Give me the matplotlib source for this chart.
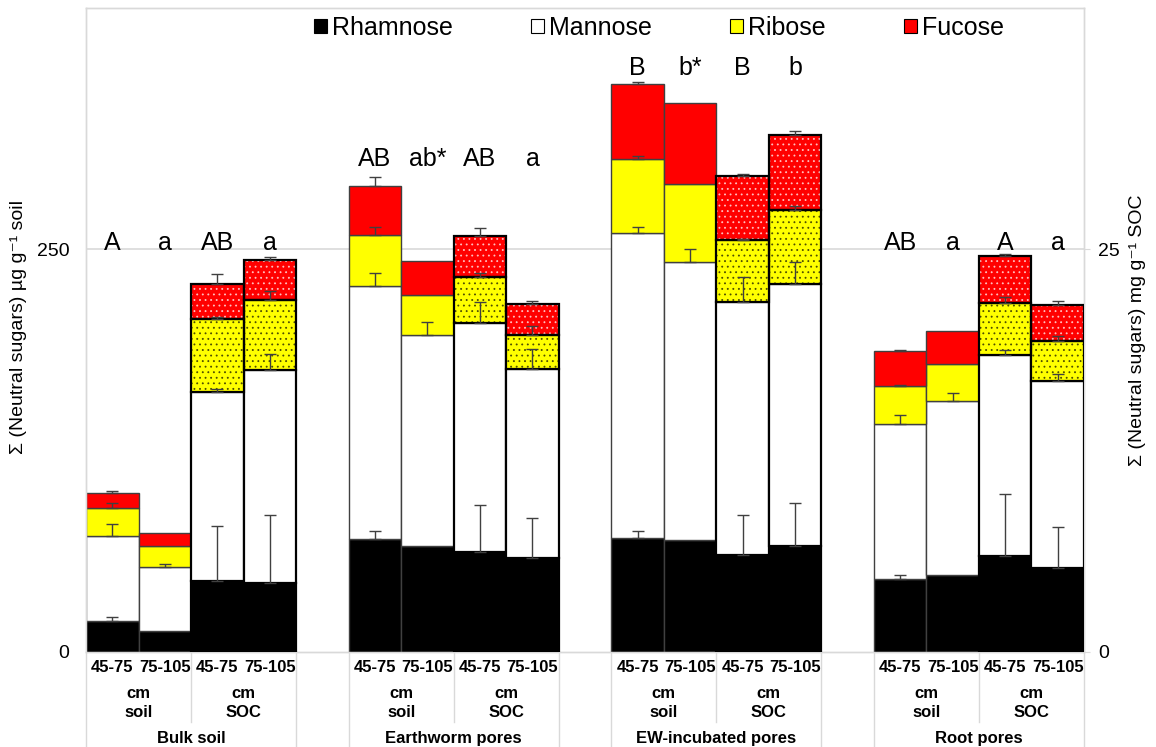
import numpy as np
import matplotlib
matplotlib.use("Agg")
import matplotlib.pyplot as plt
from matplotlib.patches import Patch

plt.rcParams['font.family'] = ['Liberation Sans', 'DejaVu Sans']
plt.rcParams['hatch.linewidth'] = 0.6

groups = ["Bulk soil", "Earthworm pores", "EW-incubated pores", "Root pores"]
depths = ["45-75", "75-105"]
sugars = ["Rhamnose", "Mannose", "Ribose", "Fucose"]

# per group: 45-75 cm, 75-105 cm
# soil basis in µg g-1 soil, SOC basis in mg g-1 SOC
rham_soil = [19.5, 12.9, 70.3, 65.9, 71.1, 69.7, 45.4, 47.9]
mann_soil = [52.8, 40.0, 157.1, 131.1, 189.0, 172.8, 96.2, 107.8]
rib_soil = [17.1, 13.2, 31.9, 24.6, 46.3, 48.4, 23.8, 23.2]
fuc_soil = [9.5, 7.7, 30.1, 21.1, 46.6, 50.3, 21.8, 20.7]

rham_soc = [4.40, 4.31, 6.22, 5.85, 6.03, 6.59, 5.97, 5.22]
mann_soc = [11.75, 13.23, 14.22, 11.75, 15.69, 16.28, 12.46, 11.61]
rib_soc = [4.56, 4.31, 2.88, 2.11, 3.84, 4.56, 3.26, 2.47]
fuc_soc = [2.16, 2.48, 2.51, 1.91, 4.00, 4.70, 2.89, 2.28]

rham_soil_err = [2.0, 0, 5.0, 0, 4.0, 0, 2.5, 0]
mann_soil_err = [7.0, 2.0, 8.0, 8.0, 4.0, 8.0, 5.3, 5.0]
rib_soil_err = [3.0, 0, 4.4, 0, 1.5, 0, 0.3, 0]
fuc_soil_err = [1.0, 0, 5.6, 0, 1.0, 0, 0.5, 0]

rham_soc_err = [3.4, 4.2, 2.9, 2.5, 2.5, 2.65, 3.85, 2.55]
mann_soc_err = [0.2, 0.95, 1.3, 1.2, 1.56, 1.37, 0.35, 0.44]
rib_soc_err = [0.1, 0.6, 0.2, 0.56, 0.1, 0.3, 0.35, 0.3]
fuc_soc_err = [0.6, 0.2, 0.5, 0.15, 0.1, 0.2, 0.17, 0.2]

letters_soil = ["A", "a", "AB", "ab*", "B", "b*", "AB", "a"]
letters_soc = ["AB", "a", "AB", "a", "B", "b", "A", "a"]
letter_y = [254, 306, 363, 254]

colors = ["black", "white", "#ffff00", "#ff0000"]
hatch_colors = [None, None, "#4d4d00", "#ffc0c0"]

soil = [rham_soil, mann_soil, rib_soil, fuc_soil]
soc = [rham_soc, mann_soc, rib_soc, fuc_soc]
soil_err = [rham_soil_err, mann_soil_err, rib_soil_err, fuc_soil_err]
soc_err = [rham_soc_err, mann_soc_err, rib_soc_err, fuc_soc_err]

fig = plt.figure(figsize=(11.56, 7.47), dpi=100)
ax = fig.add_axes([0.0744, 0.1272, 0.8633, 0.8621])
ax2 = ax.twinx()

n = len(groups)
x_soil = np.array([5 * g + d for g in range(n) for d in range(2)])
x_soc = x_soil + 2

grid_col = "#d9d9d9"
err_col = "#404040"


def stack(axis, xs, series, errs, soc_basis):
    bottom = np.zeros(len(xs))
    for i, vals in enumerate(series):
        vals = np.array(vals)
        if soc_basis and hatch_colors[i]:
            axis.bar(xs, vals, width=1.0, bottom=bottom, color=colors[i],
                     edgecolor=hatch_colors[i], hatch="...", linewidth=0, zorder=3)
            axis.bar(xs, vals, width=1.0, bottom=bottom, fill=False,
                     edgecolor="black", linewidth=1.6, zorder=3.1)
        else:
            axis.bar(xs, vals, width=1.0, bottom=bottom, color=colors[i],
                     edgecolor="black" if soc_basis else "#404040",
                     linewidth=1.6 if soc_basis else 1.0, zorder=3)
        top = bottom + vals
        e = np.array(errs[i])
        m = e > 0
        axis.errorbar(xs[m], top[m], yerr=[np.zeros(m.sum()), e[m]], fmt="none",
                      ecolor=err_col, elinewidth=1.0, capsize=4.5, capthick=1.0,
                      zorder=6)
        bottom = top
    return bottom


stack(ax, x_soil, soil, soil_err, False)
stack(ax2, x_soc, soc, soc_err, True)

ax.set_xlim(-0.5, 5 * n - 1.5)
ax.set_ylim(0, 400)
ax2.set_ylim(0, 40)
ax.set_xticks([])
ax.set_yticks([0, 250])
ax.set_yticklabels(["0", "250"], fontsize=14)
ax2.set_yticks([0, 25])
ax2.set_yticklabels(["0", "25"], fontsize=14)
ax.tick_params(axis="y", length=0, pad=12)
ax2.tick_params(axis="y", length=4, color=grid_col, pad=6)
ax.axhline(250, color=grid_col, lw=1.2, zorder=0)
for a in (ax, ax2):
    for s in a.spines.values():
        s.set_color(grid_col)
        s.set_linewidth(1.0)

# significance letters
for g in range(n):
    for d in range(2):
        k = 2 * g + d
        ax.text(x_soil[k], letter_y[g], letters_soil[k], ha="center", va="center",
                fontsize=18, zorder=7)
        ax.text(x_soc[k], letter_y[g], letters_soc[k], ha="center", va="center",
                fontsize=18, zorder=7)

# multi-level category labels
tr = ax.get_xaxis_transform()
lab = dict(fontsize=12, fontweight="bold", ha="center", va="center", transform=tr,
           clip_on=False)
for g in range(n):
    x0 = 5 * g
    for b, basis in enumerate(["soil", "SOC"]):
        for d in range(2):
            ax.text(x0 + 2 * b + d, -0.024, depths[d], **lab)
        ax.text(x0 + 2 * b + 0.5, -0.064, "cm", **lab)
        ax.text(x0 + 2 * b + 0.5, -0.094, basis, **lab)
    ax.text(x0 + 1.5, -0.134, groups[g], **lab)
    for xe in (x0 - 0.5, x0 + 3.5):
        ax.plot([xe, xe], [0, -0.148], transform=tr, color=grid_col, lw=1.0,
                clip_on=False)
    ax.plot([x0 + 1.5, x0 + 1.5], [0, -0.109], transform=tr, color=grid_col,
            lw=1.0, clip_on=False)

fig.text(0.016, 0.562, "Σ (Neutral sugars) µg g⁻¹ soil", rotation=90,
         ha="center", va="center", fontsize=14)
fig.text(0.984, 0.558, "Σ (Neutral sugars) mg g⁻¹ SOC", rotation=90,
         ha="center", va="center", fontsize=14)

handles = [Patch(facecolor=c, edgecolor="black", linewidth=0.8) for c in colors]
fig.legend(handles, sugars, loc="center", bbox_to_anchor=(0.570, 0.963), ncol=4,
           frameon=False, fontsize=18, handlelength=0.5, handleheight=0.5,
           handletextpad=0.2, columnspacing=3.15)

fig.savefig("out.png", dpi=100)
